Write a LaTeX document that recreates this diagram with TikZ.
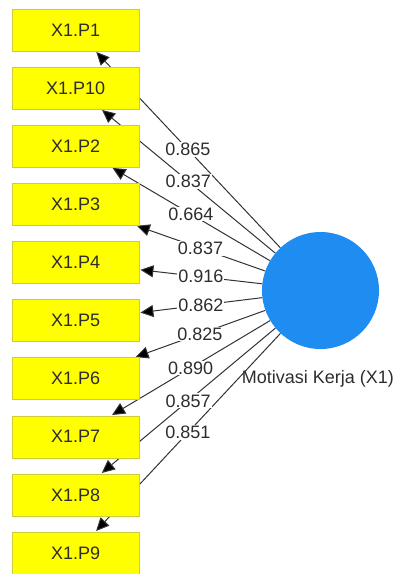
\documentclass[tikz,border=0pt]{standalone}
\usepackage{fontspec}
\setmainfont{Liberation Sans}
\usetikzlibrary{arrows.meta,backgrounds}
\definecolor{boxyellow}{RGB}{255,255,0}
\definecolor{boxedge}{RGB}{205,205,60}
\definecolor{latblue}{RGB}{30,140,240}
\definecolor{txtc}{RGB}{45,45,45}
\begin{document}
\begin{tikzpicture}[x=1pt,y=-1pt,
  ind/.style={draw=boxedge,fill=boxyellow,minimum width=127pt,minimum height=42pt,inner sep=0pt,font=\fontsize{18}{20}\selectfont,text=txtc},
  lat/.style={circle,fill=latblue,minimum size=117pt,inner sep=0pt},
  load/.style={draw=black!80,line width=1pt,shorten >=1pt,-{Triangle[length=13pt,width=12pt,fill=black]}},
  wt/.style={fill=white,inner sep=1pt,font=\fontsize{18}{20}\selectfont,text=txtc},
  latname/.style={font=\fontsize{18}{20}\selectfont,text=txtc,inner sep=0pt}]
\useasboundingbox (0,0) rectangle (404,574);
\node[lat] (lv) at (320.5,290.5) {};
\node[latname] (lvname) at (318,379) {Motivasi Kerja (X1)};
\foreach \n/\t/\i in {p1/X1.P1/0, p10/X1.P10/1, p2/X1.P2/2, p3/X1.P3/3, p4/X1.P4/4, p5/X1.P5/5, p6/X1.P6/6, p7/X1.P7/7, p8/X1.P8/8, p9/X1.P9/9}{
  \node[ind] (\n) at (75.7,{30+58.1*\i}) {\t};
}
\begin{pgfonlayer}{background}
\foreach \n in {p1,p10,p2,p3,p4,p5,p6,p7,p8,p9}{
  \draw[load] (lv) -- (\n);
}
\end{pgfonlayer}
\foreach \n/\w in {p1/0.865, p10/0.837, p2/0.664, p3/0.837, p4/0.916, p5/0.862, p6/0.825, p7/0.890, p8/0.857, p9/0.851}{
  \path (lv) -- node[wt] {\w} (\n);
}
\end{tikzpicture}
\end{document}
